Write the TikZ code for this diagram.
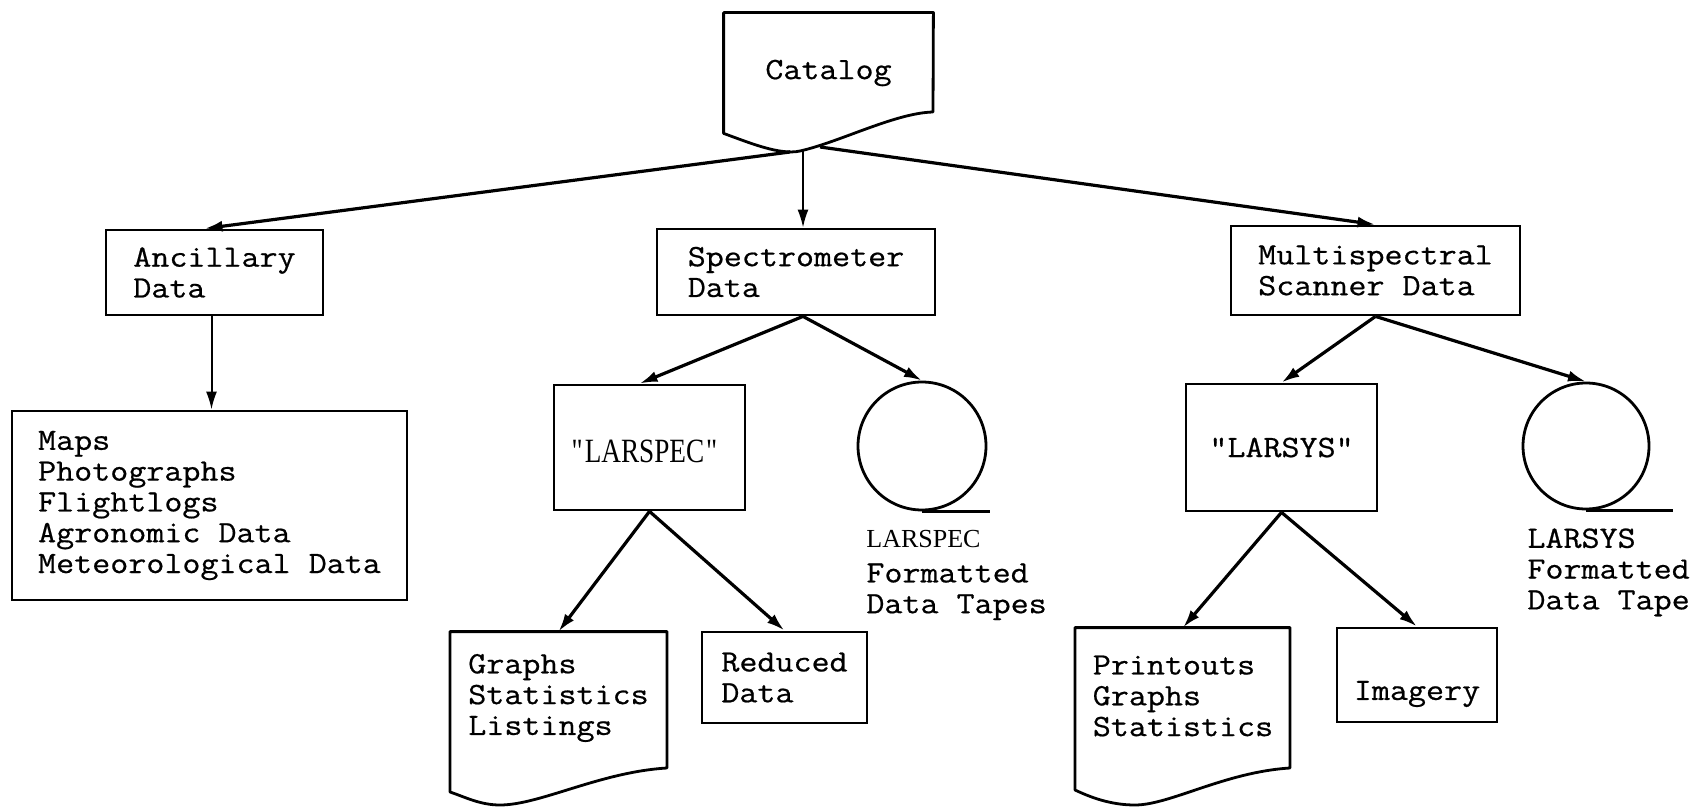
\documentclass[tikz,border=0pt]{standalone}
\usepackage{fontspec}
\newfontfamily\tw{Latin Modern Mono}[FakeStretch=1.13,FakeBold=0.6]
\newfontfamily\tr{Liberation Serif}
\newfontfamily\trn{Liberation Serif}[FakeStretch=0.8]
\usetikzlibrary{arrows.meta,calc}
\begin{document}
\begin{tikzpicture}[x=0.5pt,y=-0.5pt,
  txt/.style={font=\tw\fontsize{15.5pt}{15.4pt}\selectfont, inner sep=0pt, align=left},
  box/.style={txt, draw, line width=1.4pt, rectangle},
  outline/.style={line width=1.4pt, line join=round},
  arr/.style={line width=1.6pt, -{Latex[length=9pt,width=5.5pt]}},
  thinarr/.style={line width=1pt, -{Latex[length=9pt,width=5.5pt]}}]
\fill[white] (0,0) rectangle (1707,807);
\useasboundingbox (0,0) rectangle (1707,807);

% Catalog (document)
\node[txt, minimum width=104.5pt, minimum height=60pt] (cat) at (828.5,73) {Catalog};
\draw[outline] (cat.south west) -- (cat.north west) -- (cat.north east) -- (933,112)
  .. controls (895,113) and (840,142) .. (800,151)
  .. controls (780,155.5) and (750,143) .. (cat.south west) -- cycle;
\coordinate (catL) at (790,152);
\coordinate (catM) at (803,151);
\coordinate (catR) at (820,147);

% second level
\node[box, minimum width=108.5pt, minimum height=42.5pt] (anc) at (214.5,272.5) {Ancillary\\Data};
\node[box, minimum width=139pt, minimum height=43pt] (spec) at (796,272) {Spectrometer\\Data};
\node[box, minimum width=144.5pt, minimum height=44.5pt] (msd) at (1375.5,270.5) {Multispectral\\Scanner Data};

% ancillary
\node[box, minimum width=197.5pt, minimum height=94.5pt] (maps) at (209.5,505.5)
  {Maps\\Photographs\\Flightlogs\\Agronomic Data\\Meteorological Data};

% spectrometer branch
\node[box, minimum width=95.5pt, minimum height=62.5pt] (lspec) at (649.5,447.5)
  {\trn\fontsize{17pt}{17pt}\selectfont\raisebox{-2pt}[\height][\depth]{"\kern1pt LARSPEC\kern1pt"}\kern5pt};
\node[draw, circle, line width=1.4pt, minimum size=64pt, inner sep=0pt] (tape1) at (922,446) {};
\draw[outline] (tape1.south) -- ++(68,0);
\node[txt, anchor=north west] (lab1) at (866,530)
  {{\tr\fontsize{13pt}{15.4pt}\selectfont LARSPEC}\\[2pt]Formatted\\Data Tapes};

\node[txt, minimum width=108.5pt, minimum height=66pt] (gdoc) at (558.5,698) {Graphs\\Statistics\\Listings};
\draw[outline] (450,792) -- (gdoc.north west -| 450,0) -- (gdoc.north east -| 667,0) -- (667,768)
  .. controls (600,772) and (540,805) .. (500,805)
  .. controls (480,805) and (465,797) .. (450,792) -- cycle;
\node[box, minimum width=82.5pt, minimum height=45.5pt] (red) at (784.5,677.5) {Reduced\\Data};

% scanner branch
\node[box, minimum width=95.5pt, minimum height=63.5pt] (lsys) at (1281.5,447.5) {"LARSYS"};
\node[draw, circle, line width=1.4pt, minimum size=63pt, inner sep=0pt] (tape2) at (1586,446) {};
\draw[outline] (tape2.south) -- ++(87,0);
\node[txt, anchor=north west] (lab2) at (1527,528) {LARSYS\\Formatted\\Data Tape};

\node[txt, minimum width=107.5pt, minimum height=68pt] (pdoc) at (1183,696) {Printouts\\Graphs\\Statistics};
\draw[outline] (1075,790) -- (pdoc.north west -| 1075,0) -- (pdoc.north east -| 1290,0) -- (1290,768)
  .. controls (1225,772) and (1170,805) .. (1135,805)
  .. controls (1110,805) and (1090,797) .. (1075,790) -- cycle;
\node[box, minimum width=80pt, minimum height=47pt] (img) at (1417,675)
  {\raisebox{-9.5pt}[\height][\depth]{Imagery}};

% connectors
\draw[arr] (catL) -- ($(anc.north)+(-10,0)$);
\draw[thinarr] (catM) -- (catM |- spec.north);
\draw[arr] (catR) -- (msd.north);
\draw[thinarr] ($(anc.south)+(-3,0)$) -- ($(anc.south |- maps.north)+(-3,0)$);
\coordinate (specB) at ($(spec.south)+(7,0)$);
\draw[arr] (specB) -- ($(lspec.north)+(-10,0)$);
\draw[arr] (specB) -- (tape1.north);
\draw[arr] (lspec.south) -- (gdoc.north);
\draw[arr] (lspec.south) -- (red.north);
\draw[arr] (msd.south) -- (lsys.north);
\draw[arr] (msd.south) -- (tape2.north);
\draw[arr] (lsys.south) -- (pdoc.north);
\draw[arr] (lsys.south) -- (img.north);
\end{tikzpicture}
\end{document}
